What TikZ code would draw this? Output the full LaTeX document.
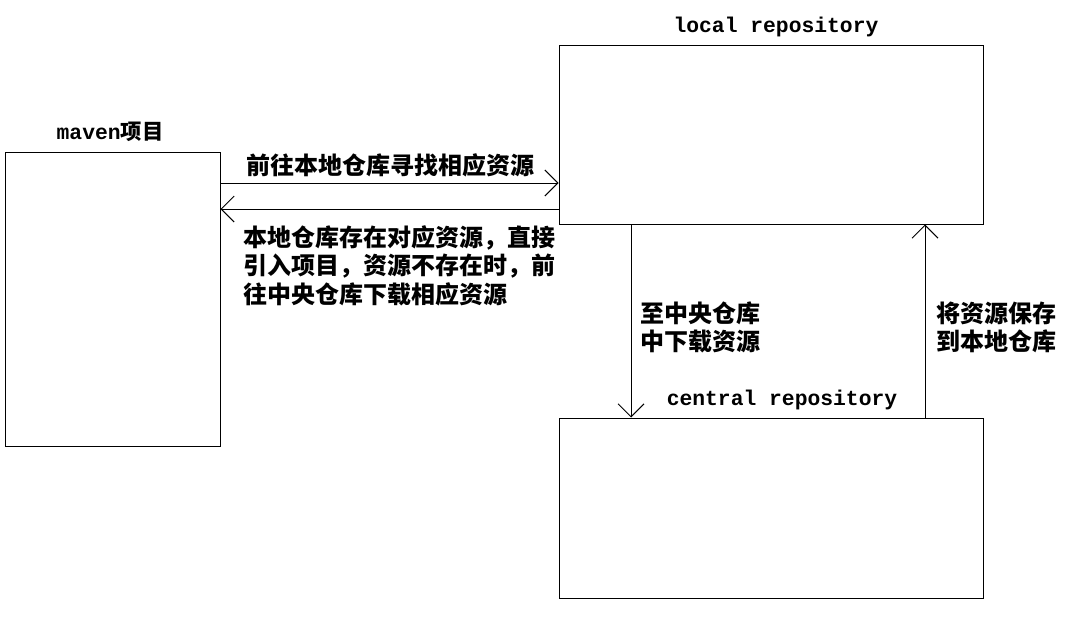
\documentclass[tikz,border=0pt]{standalone}
\usepackage{fontspec}
\setmonofont{Liberation Mono}
\newfontfamily\cjk{Noto Sans CJK SC}
\usetikzlibrary{arrows.meta}

\begin{document}
\begin{tikzpicture}[x=0.75pt,y=-0.75pt,>={Straight Barb[length=9.75pt,width=19.5pt]}]
    \tikzstyle{repo} = [draw, shape=rectangle, inner sep=0pt, line width=0.75pt]
    \tikzstyle{title} = [inner sep=0pt, font=\fontsize{16}{19}\selectfont\ttfamily\bfseries]
    \tikzstyle{note} = [inner sep=0pt, align=left, font=\fontsize{18}{21.4}\selectfont\cjk\bfseries]
    \useasboundingbox (0,0) rectangle (1074,632);
    %Creating Blocks and Titles
    \node [repo, minimum width=161.25pt, minimum height=220.5pt] (maven) at (112.5,299) {};
    \node [repo, minimum width=318pt, minimum height=134.25pt] (local) at (771,134.5) {};
    \node [repo, minimum width=318pt, minimum height=135pt] (central) at (771,508) {};
    \node [title] (maven_title) at (110,132) {maven{\cjk 项目}};
    \node [title] (local_title) at (776,27) {local repository};
    \node [title] (central_title) at (782,400) {central repository};
    \coordinate (go) at (0,183);
    \coordinate (back) at (0,209);
    \coordinate (down) at (631,0);
    \coordinate (up) at (925,0);
    %Labels
    \node [note] (go_label) at (390,165) {前往本地仓库寻找相应资源};
    \node [note, anchor=north west] (back_label) at (243,225) {本地仓库存在对应资源，直接\\引入项目，资源不存在时，前\\往中央仓库下载相应资源};
    \node [note, anchor=west] (down_label) at (640,327.5) {至中央仓库\\中下载资源};
    \node [note, anchor=west] (up_label) at (936,327.5) {将资源保存\\到本地仓库};
    %Conecting Blocks
    \begin{scope}[line width=0.75pt]
        \draw[->] (maven.east |- go) -- (local.west |- go);
        \draw[->] (local.west |- back) -- (maven.east |- back);
        \draw[->] (local.south -| down) -- (central.north -| down);
        \draw[->] (central.north -| up) -- (local.south -| up);
    \end{scope}
\end{tikzpicture}
\end{document}
